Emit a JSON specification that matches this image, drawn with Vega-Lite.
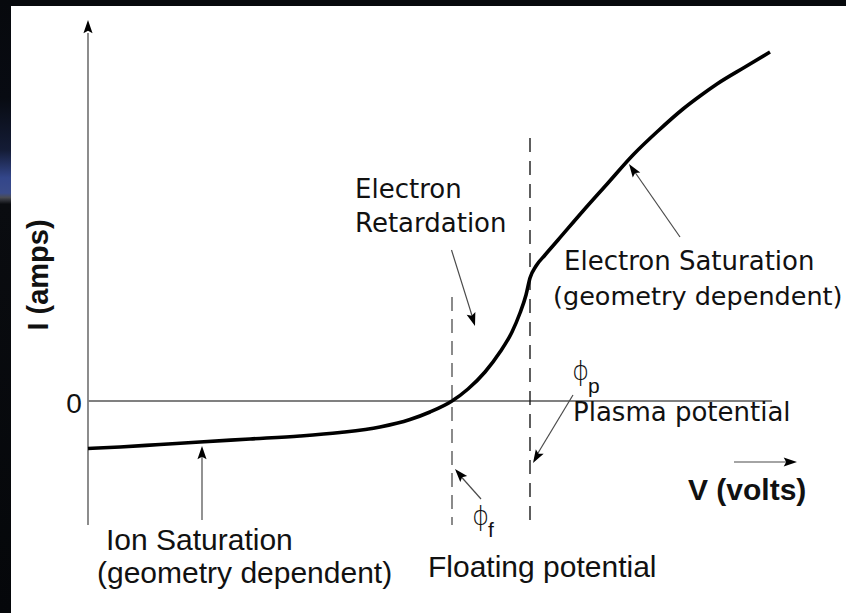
{
  "$schema": "https://vega.github.io/schema/vega-lite/v6.json",
  "width": 846,
  "height": 613,
  "padding": 0,
  "autosize": {"type": "none"},
  "background": "white",
  "config": {"view": {"stroke": null}},
  "datasets": {
    "frame": [
      {"part": "top", "V": -8.8, "V2": 75.8, "I": 40.1, "I2": 39.5}
    ],
    "frameSide": [
      {"part": "left", "V": -8.8, "V2": -7.7, "I": 40.1, "I2": -21.2}
    ],
    "axisLines": [
      {"axis": "I", "V": 0, "V2": 0, "I": -12.4, "I2": 36.8},
      {"axis": "V", "V": 0, "V2": 68.4, "I": 0, "I2": 0}
    ],
    "floatingLine": [
      {"V": 36.4, "V2": 36.4, "I": 10.4, "I2": -12.4}
    ],
    "plasmaLine": [
      {"V": 44.2, "V2": 44.2, "I": 26.3, "I2": -12.4}
    ],
    "characteristic": [
      {"V": 0, "I": -4.75},
      {"V": 3.2, "I": -4.6},
      {"V": 7.2, "I": -4.35},
      {"V": 11.2, "I": -4.1},
      {"V": 16.2, "I": -3.8},
      {"V": 21.2, "I": -3.5},
      {"V": 25.2, "I": -3.15},
      {"V": 29.2, "I": -2.6},
      {"V": 32.2, "I": -1.85},
      {"V": 34.2, "I": -1.1},
      {"V": 36.4, "I": 0},
      {"V": 38.0, "I": 1.2},
      {"V": 39.7, "I": 2.9},
      {"V": 41.2, "I": 4.9},
      {"V": 42.4, "I": 6.9},
      {"V": 43.2, "I": 8.8},
      {"V": 43.8, "I": 10.6},
      {"V": 44.2, "I": 12.3},
      {"V": 44.8, "I": 13.5},
      {"V": 45.7, "I": 14.6},
      {"V": 47.0, "I": 16.1},
      {"V": 49.5, "I": 19.0},
      {"V": 52.0, "I": 21.8},
      {"V": 54.5, "I": 24.6},
      {"V": 57.0, "I": 27.0},
      {"V": 59.5, "I": 29.2},
      {"V": 61.2, "I": 30.5},
      {"V": 62.9, "I": 31.7},
      {"V": 65.7, "I": 33.4},
      {"V": 68.2, "I": 34.9}
    ],
    "pointers": [
      {"note": "retardation", "V": 36.35, "I": 15.1, "V2": 38.6, "I2": 7.9},
      {"note": "electron saturation", "V": 59.2, "I": 16.4, "V2": 54.4, "I2": 23.3},
      {"note": "plasma potential", "V": 48.5, "I": 0.6, "V2": 44.7, "I2": -5.7},
      {"note": "floating potential", "V": 39.3, "I": -9.8, "V2": 36.9, "I2": -7.1},
      {"note": "ion saturation", "V": 11.4, "I": -11.9, "V2": 11.4, "I2": -5.1},
      {"note": "voltage direction", "V": 64.6, "I": -6.1, "V2": 70.4, "I2": -6.1}
    ],
    "heads": [
      {"note": "current axis", "V": 0, "I": 38.1, "dir": 0},
      {"note": "retardation", "V": 38.7, "I": 7.5, "dir": 162.5},
      {"note": "electron saturation", "V": 54.1, "I": 23.7, "dir": 325.6},
      {"note": "plasma potential", "V": 44.5, "I": -6.2, "dir": 210.5},
      {"note": "floating potential", "V": 36.7, "I": -6.8, "dir": 319},
      {"note": "ion saturation", "V": 11.4, "I": -4.5, "dir": 0},
      {"note": "voltage direction", "V": 70.9, "I": -6.1, "dir": 90}
    ],
    "wideLabels": [
      {"label": "Electron", "V": 26.7, "I": 20.3},
      {"label": "Retardation", "V": 26.7, "I": 16.9},
      {"label": "Electron Saturation", "V": 47.6, "I": 13.1},
      {"label": "Plasma potential", "V": 48.5, "I": -2.0}
    ],
    "edgeLabel": [
      {"label": "(geometry dependent)", "V": 46.5, "I": 9.6}
    ],
    "narrowLabels": [
      {"label": "Ion Saturation", "V": 1.8, "I": -14.9},
      {"label": "(geometry dependent)", "V": 0.9, "I": -18.2},
      {"label": "Floating potential", "V": 34.0, "I": -17.6}
    ],
    "zeroLabel": [
      {"label": "0", "V": -1.4, "I": -1.2}
    ],
    "potentialSymbols": [
      {"label": "ϕ", "V": 48.4, "I": 2.1},
      {"label": "ϕ", "V": 38.4, "I": -12.4}
    ],
    "potentialSubscripts": [
      {"label": "p", "V": 50.0, "I": 0.8},
      {"label": "f", "V": 40.0, "I": -13.6}
    ],
    "voltTitle": [
      {"label": "V (volts)", "V": 60.0, "I": -9.9}
    ],
    "ampTitle": [
      {"label": "I (amps)", "V": -4.0, "I": 12.6}
    ]
  },
  "encoding": {
    "x": {"field": "V", "type": "quantitative", "axis": null,
          "scale": {"domain": [-8.8, 75.8], "nice": false, "zero": false}},
    "y": {"field": "I", "type": "quantitative", "axis": null,
          "scale": {"domain": [-21.2, 40.1], "nice": false, "zero": false}}
  },
  "layer": [
    {
      "data": {"name": "frame"},
      "mark": {"type": "rect", "color": "#07090d", "clip": true},
      "encoding": {"x2": {"field": "V2"}, "y2": {"field": "I2"}}
    },
    {
      "data": {"name": "frameSide"},
      "mark": {
        "type": "rect",
        "clip": true,
        "color": {
          "gradient": "linear", "x1": 0, "y1": 0, "x2": 0, "y2": 1,
          "stops": [
            {"offset": 0, "color": "#07090d"},
            {"offset": 0.16, "color": "#080b12"},
            {"offset": 0.245, "color": "#141c36"},
            {"offset": 0.29, "color": "#33468a"},
            {"offset": 0.315, "color": "#3b4c8a"},
            {"offset": 0.322, "color": "#4a4c55"},
            {"offset": 0.333, "color": "#0a0c10"},
            {"offset": 1, "color": "#05070a"}
          ]
        }
      },
      "encoding": {"x2": {"field": "V2"}, "y2": {"field": "I2"}}
    },
    {
      "data": {"name": "axisLines"},
      "mark": {"type": "rule", "color": "#808080", "strokeWidth": 1.8, "clip": true},
      "encoding": {"x2": {"field": "V2"}, "y2": {"field": "I2"}}
    },
    {
      "data": {"name": "floatingLine"},
      "mark": {"type": "rule", "color": "#6e6e6e", "strokeWidth": 1.6, "strokeDash": [14, 8], "clip": true},
      "encoding": {"x2": {"field": "V2"}, "y2": {"field": "I2"}}
    },
    {
      "data": {"name": "plasmaLine"},
      "mark": {"type": "rule", "color": "#1a1a1a", "strokeWidth": 1.4, "strokeDash": [14, 9], "clip": true},
      "encoding": {"x2": {"field": "V2"}, "y2": {"field": "I2"}}
    },
    {
      "data": {"name": "characteristic"},
      "mark": {"type": "line", "color": "#000000", "strokeWidth": 3.6, "interpolate": "monotone", "clip": true}
    },
    {
      "data": {"name": "pointers"},
      "mark": {"type": "rule", "color": "#4a4a4a", "strokeWidth": 1.2, "clip": true},
      "encoding": {"x2": {"field": "V2"}, "y2": {"field": "I2"}}
    },
    {
      "data": {"name": "heads"},
      "mark": {"type": "point", "shape": "M0,0L1.3,3.8L0,3.1L-1.3,3.8Z", "filled": true,
               "color": "#000000", "opacity": 1, "size": 49, "clip": true},
      "encoding": {"angle": {"field": "dir", "type": "quantitative", "scale": null}}
    },
    {
      "data": {"name": "wideLabels"},
      "mark": {"type": "text", "align": "left", "baseline": "alphabetic", "clip": true,
               "font": "DejaVu Sans", "fontSize": 26, "color": "#111111"},
      "encoding": {"text": {"field": "label"}}
    },
    {
      "data": {"name": "edgeLabel"},
      "mark": {"type": "text", "align": "left", "baseline": "alphabetic", "clip": true,
               "font": "DejaVu Sans", "fontSize": 25.5, "color": "#111111"},
      "encoding": {"text": {"field": "label"}}
    },
    {
      "data": {"name": "narrowLabels"},
      "mark": {"type": "text", "align": "left", "baseline": "alphabetic", "clip": true,
               "font": "Liberation Sans", "fontSize": 30, "color": "#111111"},
      "encoding": {"text": {"field": "label"}}
    },
    {
      "data": {"name": "zeroLabel"},
      "mark": {"type": "text", "align": "center", "baseline": "alphabetic", "clip": true,
               "font": "Liberation Sans", "fontSize": 28, "color": "#111111"},
      "encoding": {"text": {"field": "label"}}
    },
    {
      "data": {"name": "potentialSymbols"},
      "mark": {"type": "text", "align": "left", "baseline": "alphabetic", "clip": true,
               "font": "DejaVu Sans", "fontSize": 26, "fontWeight": 300, "color": "#111111"},
      "encoding": {"text": {"field": "label"}}
    },
    {
      "data": {"name": "potentialSubscripts"},
      "mark": {"type": "text", "align": "left", "baseline": "alphabetic", "clip": true,
               "font": "Liberation Sans", "fontSize": 21, "color": "#111111"},
      "encoding": {"text": {"field": "label"}}
    },
    {
      "data": {"name": "voltTitle"},
      "mark": {"type": "text", "align": "left", "baseline": "alphabetic", "clip": true,
               "font": "Liberation Sans", "fontSize": 30, "fontWeight": "bold", "color": "#111111"},
      "encoding": {"text": {"field": "label"}}
    },
    {
      "data": {"name": "ampTitle"},
      "mark": {"type": "text", "align": "center", "baseline": "alphabetic", "angle": 270, "clip": true,
               "font": "Liberation Sans", "fontSize": 29, "fontWeight": "bold", "color": "#111111"},
      "encoding": {"text": {"field": "label"}}
    }
  ]
}
